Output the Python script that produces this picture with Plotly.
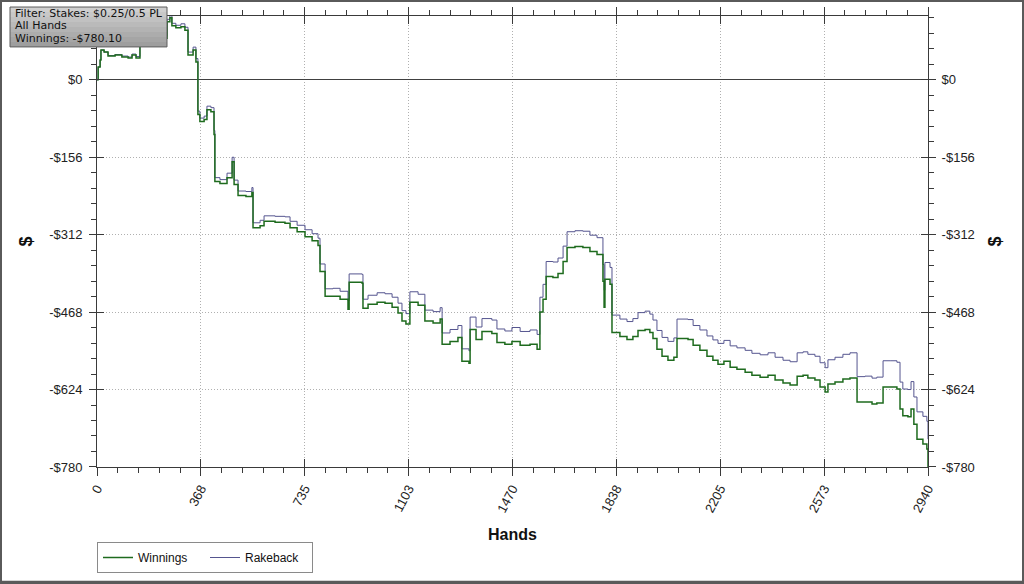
import plotly.graph_objects as go

# ---- data ----
hands = [0, 4, 11, 14, 25, 39, 64, 88, 110, 124,
         138, 152, 188, 223, 248, 258, 265, 279, 297, 311,
         322, 340, 350, 357, 364, 379, 389, 403, 414, 417,
         435, 460, 478, 485, 499, 527, 548, 552, 577, 591,
         630, 665, 683, 708, 736, 761, 782, 789, 807, 835,
         860, 888, 892, 938, 941, 959, 991, 1019, 1044, 1065,
         1079, 1093, 1107, 1136, 1160, 1189, 1214, 1221, 1249, 1277,
         1291, 1316, 1320, 1341, 1362, 1397, 1415, 1443, 1468, 1497,
         1532, 1557, 1567, 1578, 1589, 1613, 1631, 1649, 1663, 1691,
         1719, 1744, 1769, 1790, 1794, 1797, 1815, 1822, 1850, 1875,
         1896, 1914, 1939, 1956, 1967, 1981, 1999, 2020, 2041, 2052,
         2091, 2109, 2133, 2158, 2179, 2197, 2218, 2240, 2264, 2293,
         2317, 2346, 2374, 2399, 2427, 2452, 2477, 2498, 2515, 2540,
         2558, 2576, 2586, 2611, 2639, 2664, 2689, 2717, 2742, 2759,
         2781, 2806, 2830, 2841, 2851, 2869, 2880, 2890, 2901, 2922,
         2936, 2940]

winnings = [0, 26, 40, 60, 56, 48, 50, 46, 44, 50,
            44, 80, 90, 84, 117, 125, 109, 105, 107, 100,
            50, 60, 36, -70, -84, -80, -60, -64, -110, -205,
            -209, -197, -165, -211, -233, -235, -227, -298, -294, -285,
            -287, -289, -298, -306, -316, -324, -334, -386, -436, -436,
            -442, -462, -408, -410, -460, -452, -448, -450, -458, -470,
            -486, -492, -448, -454, -486, -490, -482, -533, -527, -519,
            -567, -571, -503, -523, -507, -511, -529, -533, -527, -535,
            -533, -543, -468, -442, -396, -398, -390, -366, -338, -336,
            -338, -346, -352, -406, -458, -402, -412, -509, -517, -523,
            -517, -505, -503, -509, -521, -543, -557, -565, -559, -521,
            -523, -535, -545, -557, -565, -573, -567, -579, -583, -589,
            -595, -599, -595, -605, -611, -615, -597, -595, -601, -605,
            -619, -629, -613, -609, -603, -601, -649, -649, -653, -651,
            -619, -619, -623, -663, -677, -679, -663, -694, -724, -734,
            -744, -780.10]

rakeback = [0, 26, 40, 60, 56, 49, 51, 48, 46, 52,
            47, 83, 94, 88, 122, 130, 114, 110, 113, 106,
            56, 66, 43, -63, -77, -73, -53, -56, -102, -197,
            -201, -188, -156, -202, -224, -225, -217, -288, -283, -274,
            -275, -276, -285, -293, -302, -310, -319, -371, -421, -420,
            -426, -445, -391, -392, -442, -434, -429, -431, -438, -450,
            -465, -471, -427, -432, -464, -467, -459, -510, -503, -495,
            -542, -546, -478, -498, -481, -484, -502, -506, -499, -507,
            -504, -513, -438, -412, -366, -367, -359, -335, -306, -304,
            -305, -313, -318, -372, -424, -368, -378, -474, -482, -487,
            -481, -469, -466, -472, -484, -505, -519, -527, -520, -482,
            -483, -495, -504, -516, -524, -531, -525, -536, -540, -545,
            -551, -554, -550, -559, -565, -568, -550, -548, -553, -557,
            -570, -580, -564, -559, -553, -550, -598, -597, -601, -599,
            -566, -566, -569, -609, -623, -624, -608, -639, -669, -678,
            -688, -724.10]

x_tickvals = [0, 367.5, 735, 1102.5, 1470, 1837.5, 2205, 2572.5, 2940]
x_ticktext = ["0", "368", "735", "1103", "1470", "1838", "2205", "2573", "2940"]
y_tickvals = [0, -156, -312, -468, -624, -780]
y_ticktext = ["$0", "-$156", "-$312", "-$468", "-$624", "-$780"]

filter_lines = ["Filter: Stakes: $0.25/0.5 PL", "All Hands", "Winnings: -$780.10"]

# ---- layout constants ----
W, H = 1024, 584
ML, MR, MT, MB = 97, 96, 16, 116
PW, PH = W - ML - MR, H - MT - MB
XR = [0, 2940]
YR = [-780.1, 128.7]
AXC = "#3a3a3a"
FONT = "Liberation Sans, Arial, sans-serif"
TICKFONT = dict(family=FONT, size=13, color="#222222")
GRID = dict(showgrid=True, gridcolor="#b0b0b0", griddash="1px,2px", gridwidth=1)


def px_x(p):  # pixel -> paper x
    return (p - ML) / PW


def px_y(p):  # pixel -> paper y
    return (MT + PH - p) / PH


fig = go.Figure()
fig.add_trace(go.Scatter(x=hands, y=rakeback, name="Rakeback", mode="lines",
                         line=dict(color="#55558f", width=1, shape="hv"),
                         legendrank=2))
fig.add_trace(go.Scatter(x=hands, y=winnings, name="Winnings", mode="lines",
                         line=dict(color="#1e6b1e", width=1.5, shape="hv"),
                         legendrank=1))
# empty helper traces so the overlay axes (inner ticks / right axis) are drawn
for xa, ya in (("x2", "y"), ("x", "y2"), ("x", "y3")):
    fig.add_trace(go.Scatter(x=[], y=[], xaxis=xa, yaxis=ya, mode="lines",
                             showlegend=False, hoverinfo="skip"))

common_x = dict(range=XR, tickmode="array", tickvals=x_tickvals,
                linecolor=AXC, tickcolor=AXC, automargin=False, zeroline=False,
                minor=dict(tickmode="linear", tick0=0, dtick=73.5, ticklen=5,
                           tickcolor=AXC, showgrid=False))
common_y = dict(range=YR, tickmode="array", tickvals=y_tickvals,
                linecolor=AXC, tickcolor=AXC, automargin=False,
                minor=dict(tickmode="linear", tick0=0, dtick=31.2, ticklen=5,
                           tickcolor=AXC, showgrid=False))

fig.update_layout(
    width=W, height=H,
    margin=dict(l=ML, r=MR, t=MT, b=MB, pad=0),
    paper_bgcolor="white", plot_bgcolor="white",
    showlegend=True,
    xaxis=dict(**common_x, **GRID, ticktext=x_ticktext, ticks="outside",
               ticklen=8, showline=True, mirror="ticks", tickangle=-62,
               tickfont=TICKFONT,
               title=dict(text="<b>Hands</b>", standoff=14,
                          font=dict(family=FONT, size=16, color="#111111"))),
    xaxis2=dict(**common_x, overlaying="x", anchor="y", side="bottom",
                ticks="inside", ticklen=8, showline=False, mirror="ticks",
                showticklabels=False, showgrid=False),
    yaxis=dict(**common_y, **GRID, ticktext=y_ticktext, ticks="outside",
               ticklen=7, showline=True, mirror=True, tickfont=TICKFONT,
               ticklabelstandoff=4,
               zeroline=True, zerolinecolor="#404040", zerolinewidth=1,
               title=dict(text="<b>$</b>", standoff=11,
                          font=dict(family=FONT, size=18, color="#111111"))),
    yaxis2=dict(**common_y, ticktext=y_ticktext, overlaying="y", anchor="x",
                side="right", ticks="outside", ticklen=7, showline=True,
                tickfont=TICKFONT, ticklabelstandoff=3, showgrid=False,
                zeroline=False,
                title=dict(text="<b>$</b>", standoff=14,
                           font=dict(family=FONT, size=18, color="#111111"))),
    yaxis3=dict(**common_y, overlaying="y", anchor="x", side="left",
                ticks="inside", ticklen=7, showline=False, mirror="ticks",
                showticklabels=False, showgrid=False, zeroline=False),
    legend=dict(orientation="h", x=0, xanchor="left",
                y=px_y(542), yanchor="top",
                bgcolor="white", bordercolor="#8a8a8a", borderwidth=1,
                font=dict(family=FONT, size=12, color="#111111"),
                entrywidth=62, entrywidthmode="pixels", itemwidth=30),
)

# filter info box: soft vertical grey gradient made of bands
band_cols = ["#cfcfcf", "#c8c8c8", "#c1c1c1", "#bababa", "#b3b3b3",
             "#acacac", "#a5a5a5", "#9e9e9e"]
bx0, bx1, by0, by1 = 10, 167, 7, 47
bh = (by1 - by0) / len(band_cols)
for i, c in enumerate(band_cols):
    fig.add_shape(type="rect", xref="paper", yref="paper", layer="above",
                  x0=px_x(bx0), x1=px_x(bx1),
                  y0=px_y(by0 + (i + 1) * bh), y1=px_y(by0 + i * bh),
                  line=dict(width=0), fillcolor=c)
fig.add_shape(type="rect", xref="paper", yref="paper", layer="above",
              x0=px_x(bx0), x1=px_x(bx1), y0=px_y(by1), y1=px_y(by0),
              line=dict(color="#5c5c5c", width=1), fillcolor="rgba(0,0,0,0)")
for i, t in enumerate(filter_lines):
    fig.add_annotation(xref="paper", yref="paper", x=px_x(13),
                       y=px_y(13.5 + i * 12.5), xanchor="left",
                       yanchor="middle", text=t, showarrow=False,
                       font=dict(family="DejaVu Sans, Verdana, sans-serif",
                                 size=11, color="#111111"))

# outer frame of the image
fig.add_shape(type="rect", xref="paper", yref="paper",
              x0=px_x(0), x1=px_x(W), y0=px_y(H), y1=px_y(0),
              line=dict(color="#5a5a5a", width=4), fillcolor="rgba(0,0,0,0)",
              layer="above")

fig.write_html("out.html", config={"displayModeBar": False},
               post_script="document.body.style.margin='0';"
                           "document.body.style.overflow='hidden';")
